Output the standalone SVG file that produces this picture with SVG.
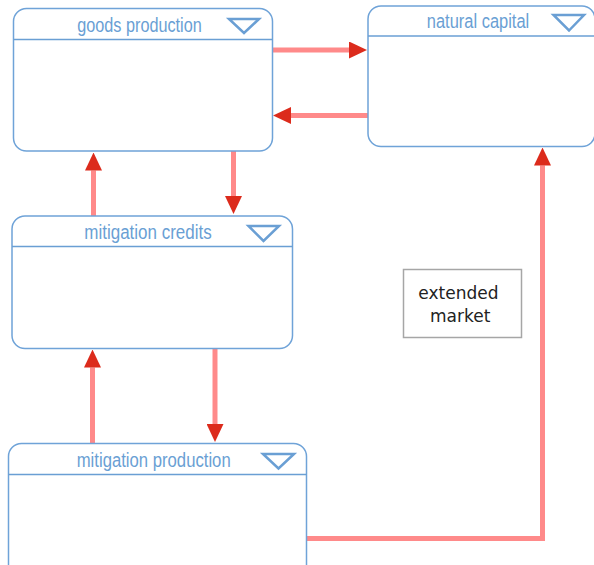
<svg xmlns="http://www.w3.org/2000/svg" width="594" height="565" viewBox="0 0 594 565">
  <style>
    .box { fill: #ffffff; stroke: #6fa3d8; stroke-width: 1.5; }
    .hdr { stroke: #6a9fd4; stroke-width: 1.5; }
    .title { font-family: "Liberation Sans", Arial, sans-serif; font-size: 20px; fill: #6a9fd4; text-anchor: middle; }
    .tri { fill: none; stroke: #6a9fd4; stroke-width: 2.5; stroke-linejoin: miter; }
    .flow { fill: none; stroke: #ff8a8a; stroke-width: 5; stroke-linejoin: miter; }
    .note { fill: #ffffff; stroke: #a6a6a6; stroke-width: 1.5; }
    .notetext { font-family: "DejaVu Sans", sans-serif; font-size: 17px; fill: #222222; }
  </style>
  <defs>
    <marker id="head" markerUnits="userSpaceOnUse" markerWidth="18" markerHeight="17" refX="0" refY="8.5" orient="auto">
      <path d="M0,0 L18,8.5 L0,17 z" fill="#dc2b1c"/>
    </marker>
  </defs>

  <!-- connectors -->
  <g id="connectors">
    <path class="flow" d="M272.5,50 H349" marker-end="url(#head)"/>
    <path class="flow" d="M368,115.5 H291" marker-end="url(#head)"/>
    <path class="flow" d="M93.5,216 V170.5" marker-end="url(#head)"/>
    <path class="flow" d="M233.5,151 V196" marker-end="url(#head)"/>
    <path class="flow" d="M92.5,443 V367.5" marker-end="url(#head)"/>
    <path class="flow" d="M215,348.5 V424" marker-end="url(#head)"/>
    <path class="flow" d="M307,538.5 H542.5 V165.5" marker-end="url(#head)"/>
  </g>

  <!-- stock: goods production -->
  <g id="goods-production">
    <rect class="box" x="13.5" y="8.5" width="259" height="142.5" rx="13" ry="13"/>
    <line class="hdr" x1="13.5" y1="39.5" x2="272.5" y2="39.5"/>
    <text class="title" x="139.5" y="32" textLength="124.5" lengthAdjust="spacingAndGlyphs">goods production</text>
    <polygon class="tri" points="229,19 259,19 244,33"/>
  </g>

  <!-- stock: natural capital -->
  <g id="natural-capital">
    <rect class="box" x="368" y="6" width="227" height="140.5" rx="13" ry="13"/>
    <line class="hdr" x1="368" y1="36" x2="595" y2="36"/>
    <text class="title" x="478" y="27.5" textLength="102.5" lengthAdjust="spacingAndGlyphs">natural capital</text>
    <polygon class="tri" points="553.5,15 584,15 569,30.5"/>
  </g>

  <!-- stock: mitigation credits -->
  <g id="mitigation-credits">
    <rect class="box" x="12" y="216" width="280.5" height="132.5" rx="13" ry="13"/>
    <line class="hdr" x1="12" y1="246.5" x2="292.5" y2="246.5"/>
    <text class="title" x="148" y="239" textLength="127.5" lengthAdjust="spacingAndGlyphs">mitigation credits</text>
    <polygon class="tri" points="248.5,226 279,226 263.5,241"/>
  </g>

  <!-- stock: mitigation production -->
  <g id="mitigation-production">
    <rect class="box" x="8.5" y="443.5" width="298" height="140" rx="13" ry="13"/>
    <line class="hdr" x1="8.5" y1="474.5" x2="306.5" y2="474.5"/>
    <text class="title" x="153.7" y="467" textLength="154" lengthAdjust="spacingAndGlyphs">mitigation production</text>
    <polygon class="tri" points="263,454 294,454 278.5,468.5"/>
  </g>

  <!-- note -->
  <g id="extended-market">
    <rect class="note" x="403.5" y="269.5" width="118" height="68"/>
    <text class="notetext" x="418.3" y="298.5">extended</text>
    <text class="notetext" x="430" y="322">market</text>
  </g>
</svg>
